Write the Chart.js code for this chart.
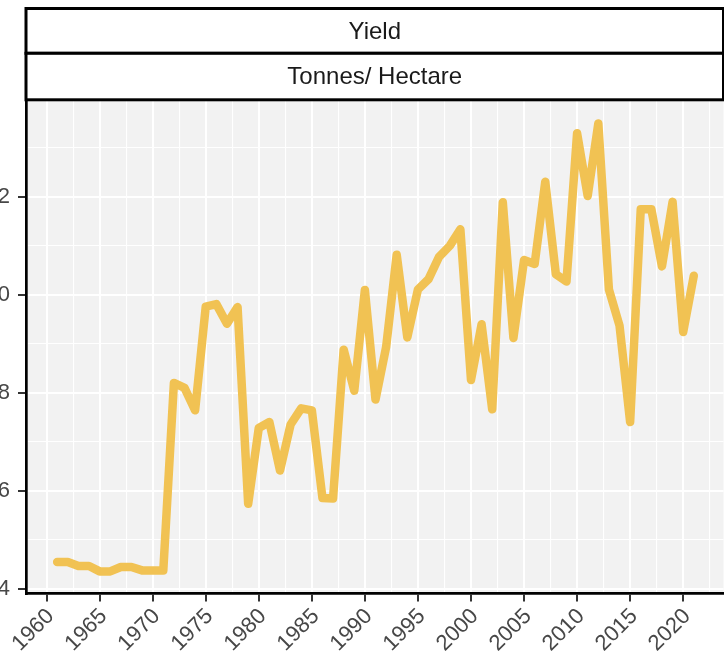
<!DOCTYPE html>
<html>
<head>
<meta charset="utf-8">
<script src="https://cdn.jsdelivr.net/npm/chart.js@4.4.1/dist/chart.umd.min.js"></script>
<style>
  html, body { margin: 0; padding: 0; background: #fff; overflow: hidden; }
  #wrap { position: relative; width: 724px; height: 660px; overflow: hidden; }
  #chart { position: absolute; left: -30px; top: 0; }
</style>
</head>
<body>
<div id="wrap"><canvas id="chart" width="756" height="660"></canvas></div>
<script>
const years = [1961, 1962, 1963, 1964, 1965, 1966, 1967, 1968, 1969, 1970,
  1971, 1972, 1973, 1974, 1975, 1976, 1977, 1978, 1979, 1980,
  1981, 1982, 1983, 1984, 1985, 1986, 1987, 1988, 1989, 1990,
  1991, 1992, 1993, 1994, 1995, 1996, 1997, 1998, 1999, 2000,
  2001, 2002, 2003, 2004, 2005, 2006, 2007, 2008, 2009, 2010,
  2011, 2012, 2013, 2014, 2015, 2016, 2017, 2018, 2019, 2020, 2021];

// tonnes per hectare
const yieldValues = [4.54, 4.54, 4.46, 4.46, 4.35, 4.35, 4.44, 4.44, 4.37, 4.37,
  4.37, 8.20, 8.10, 7.64, 9.76, 9.81, 9.41, 9.75, 5.73, 7.28,
  7.40, 6.41, 7.35, 7.68, 7.64, 5.85, 5.84, 8.88, 8.04, 10.10,
  7.86, 8.93, 10.82, 9.13, 10.11, 10.32, 10.78, 11.00, 11.34, 8.26,
  9.40, 7.66, 11.89, 9.12, 10.71, 10.63, 12.31, 10.42, 10.27, 13.30,
  12.02, 13.50, 10.11, 9.37, 7.40, 11.75, 11.75, 10.58, 11.90, 9.24, 10.39];

const stripLabels = ['Yield', 'Tonnes/ Hectare'];
const yTickLabels = ['4', '6', '8', '10', '12'];
const xTickLabels = ['1960', '1965', '1970', '1975', '1980', '1985', '1990',
  '1995', '2000', '2005', '2010', '2015', '2020'];

const FONT = "'Liberation Sans', Arial, Helvetica, sans-serif";
const isMajorX = v => xTickLabels.includes(String(v));
const isMajorY = v => yTickLabels.includes(String(v));

const panelPlugin = {
  id: 'panel',
  beforeDraw(chart) {
    const { ctx, chartArea: a } = chart;
    ctx.save();
    ctx.fillStyle = '#fff';
    ctx.fillRect(0, 0, chart.width, chart.height);
    ctx.fillStyle = '#F2F2F2';
    ctx.fillRect(a.left, a.top, a.right - a.left, a.bottom - a.top);
    ctx.restore();
  },
  afterDraw(chart) {
    const { ctx, chartArea: a } = chart;
    const rows = [[8.5, 53.3], [53.3, 99.8]];
    ctx.save();
    rows.forEach(([t, b], i) => {
      ctx.fillStyle = '#fff';
      ctx.fillRect(a.left, t, a.right - a.left, b - t);
      ctx.strokeStyle = '#000';
      ctx.lineWidth = 3;
      ctx.strokeRect(a.left, t, a.right - a.left, b - t);
      ctx.fillStyle = '#1A1A1A';
      ctx.font = '24px ' + FONT;
      ctx.textAlign = 'center';
      ctx.textBaseline = 'middle';
      ctx.fillText(stripLabels[i], (a.left + a.right) / 2, (t + b) / 2 + 1);
    });
    ctx.restore();
  }
};

new Chart(document.getElementById('chart'), {
  type: 'line',
  data: {
    datasets: [{
      label: 'Yield',
      data: years.map((yr, i) => ({ x: yr, y: yieldValues[i] })),
      borderColor: '#F1C253',
      borderWidth: 8.5,
      borderJoinStyle: 'round',
      borderCapStyle: 'round',
      pointRadius: 0,
      tension: 0,
      fill: false,
    }]
  },
  options: {
    responsive: false,
    animation: false,
    layout: { padding: { top: 100.5, right: 2.5, bottom: 0, left: 0 } },
    plugins: {
      legend: { display: false },
      tooltip: { enabled: false },
    },
    scales: {
      x: {
        type: 'linear',
        min: 1958.06,
        max: 2023.8,
        afterFit: s => { s.height = 66.5; s.paddingLeft = 0; s.paddingRight = 0; },
        border: { display: true, color: '#000', width: 2.7 },
        grid: {
          color: '#fff',
          lineWidth: c => (c.tick && isMajorX(c.tick.value) ? 2 : 1.1),
          tickColor: c => (c.tick && isMajorX(c.tick.value) ? '#333' : 'rgba(0,0,0,0)'),
          tickLength: 8,
          tickWidth: 2,
        },
        ticks: {
          stepSize: 2.5,
          includeBounds: false,
          autoSkip: false,
          minRotation: 45,
          maxRotation: 45,
          padding: 2,
          labelOffset: 4,
          color: '#474747',
          font: { family: FONT, size: 22 },
          callback: v => (isMajorX(v) ? String(v) : ''),
        },
      },
      y: {
        min: 3.898,
        max: 13.97,
        afterFit: s => { s.width = 56; s.paddingTop = 0; s.paddingBottom = 0; },
        border: { display: true, color: '#000', width: 2.7 },
        grid: {
          color: '#fff',
          lineWidth: c => (c.tick && isMajorY(c.tick.value) ? 2 : 1.1),
          tickColor: c => (c.tick && isMajorY(c.tick.value) ? '#333' : 'rgba(0,0,0,0)'),
          tickLength: 8,
          tickWidth: 2,
        },
        ticks: {
          stepSize: 1,
          includeBounds: false,
          padding: 8,
          color: '#474747',
          font: { family: FONT, size: 22 },
          callback: v => (isMajorY(v) ? String(v) : ''),
        },
      },
    },
  },
  plugins: [panelPlugin],
});
</script>
</body>
</html>
